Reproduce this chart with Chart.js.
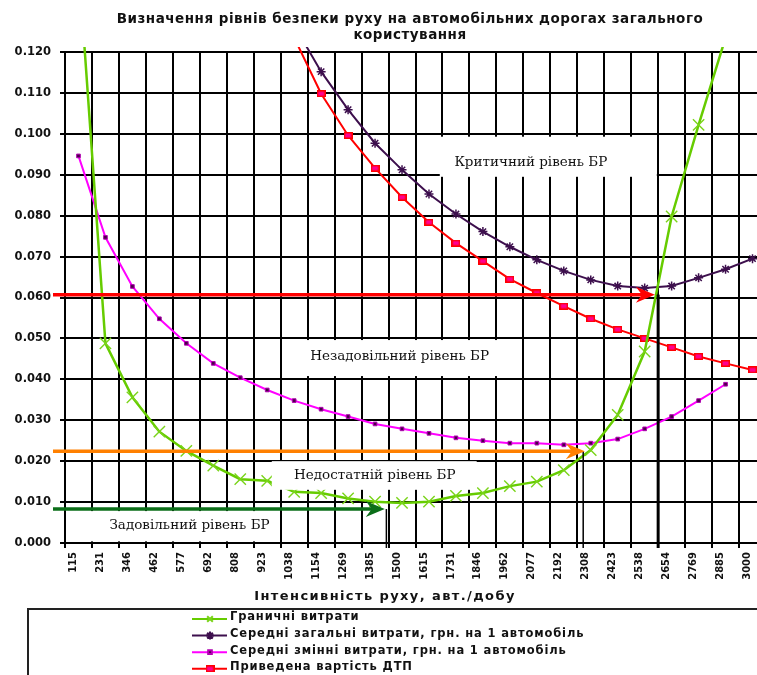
<!DOCTYPE html>
<html lang="uk">
<head>
<meta charset="utf-8">
<title>Визначення рівнів безпеки руху</title>
<script src="https://cdn.jsdelivr.net/npm/chart.js@4.4.1/dist/chart.umd.min.js"></script>
<style>
    html, body { margin: 0; padding: 0; background: #fff; overflow: hidden; }
    #wrap { position: relative; width: 766px; height: 675px; }
</style>
</head>
<body>
<div id="wrap"><canvas id="chart"></canvas></div>
<script>
// ---------------- Data ----------------
const categories = ['115', '231', '346', '462', '577', '692', '808', '923', '1038', '1154', '1269', '1385', '1500',
    '1615', '1731', '1846', '1962', '2077', '2192', '2308', '2423', '2538', '2654', '2769', '2885', '3000'];

// Граничні витрати
const marginalCosts = [0.142, 0.0488, 0.0356, 0.0272, 0.0225, 0.0189, 0.0156, 0.0152, 0.0125, 0.0122, 0.0109, 0.0101,
    0.0098, 0.0101, 0.0115, 0.0122, 0.0139, 0.0150, 0.0178, 0.0227, 0.0313, 0.0468, 0.0798, 0.1022, 0.1235, null];

// Середні загальні витрати
const avgTotalCosts = [null, null, null, null, null, null, null, null, 0.1265, 0.1152, 0.1059, 0.0977,
    0.0912, 0.0853, 0.0804, 0.0761, 0.0724, 0.0692, 0.0665, 0.0643, 0.0628, 0.0623, 0.0628, 0.0648, 0.0669, 0.0695];

// Середні змінні витрати
const avgVariableCosts = [0.0946, 0.0747, 0.0627, 0.0548, 0.0488, 0.0439, 0.0404, 0.0374, 0.0348, 0.0327, 0.0309, 0.0291,
    0.0279, 0.0268, 0.0257, 0.0250, 0.0244, 0.0244, 0.0240, 0.0244, 0.0254, 0.0279, 0.0309, 0.0348, 0.0388, null];

// Приведена вартість ДТП
const accidentCosts = [null, null, null, null, null, null, null, null, 0.1235, 0.1098, 0.0996, 0.0916,
    0.0845, 0.0784, 0.0733, 0.0689, 0.0645, 0.0611, 0.0579, 0.0548, 0.0522, 0.0500, 0.0478, 0.0456, 0.0439, 0.0423];

const seriesNames = [
    'Граничні витрати',
    'Середні загальні витрати, грн. на 1 автомобіль',
    'Середні змінні витрати, грн. на 1 автомобіль',
    'Приведена вартість ДТП'
];

const yMin = 0;
const yMax = 0.12;
const yStep = 0.01;

const chartTitle = ['Визначення рівнів безпеки руху на автомобільних дорогах загального', 'користування'];
const xTitle = 'Інтенсивність руху, авт./добу';

// ---------------- Level boxes / arrows (category index, value) ----------------
const levelBoxes = [
    { text: 'Критичний рівень БР', from: 13.4, to: 21.45, top: 0.0993, bottom: 0.0895, at: [16.78, 0.0929] },
    { text: 'Незадовільний рівень БР', from: 8.13, to: 15.66, top: 0.0496, bottom: 0.0408, at: [11.91, 0.0455] },
    { text: 'Недостатній рівень БР', from: 7.17, to: 14.77, top: 0.0200, bottom: 0.0130, at: [10.99, 0.0164] },
    { text: 'Задовільний рівень БР', from: -0.44, to: 7.39, top: 0.0078, bottom: 0.0004, at: [4.12, 0.0042] }
];

const levelArrows = [
    { value: 0.0607, tip: 21.38, drop: 21.5, color: '#ff0000', dropWidth: 3 },
    { value: 0.0224, tip: 18.78, drop: 18.72, color: '#ff8000', dropWidth: 1.5 },
    { value: 0.0083, tip: 11.36, drop: 11.42, color: '#0b6e18', dropWidth: 1.5 }
];

// ---------------- Drawing helpers ----------------
// small pink rectangle marker for the ДТП series
function makeRectMarker() {
    const c = document.createElement('canvas');
    c.width = 9;
    c.height = 7;
    const g = c.getContext('2d');
    g.fillStyle = '#ff0000';
    g.fillRect(0, 0, 9, 7);
    g.fillStyle = '#ff0090';
    g.fillRect(1.5, 1.5, 6, 4);
    return c;
}
const rectMarker = makeRectMarker();

function drawArrow(ctx, x1, x2, yy, color) {
    ctx.strokeStyle = color;
    ctx.fillStyle = color;
    ctx.lineWidth = 3.5;
    ctx.beginPath();
    ctx.moveTo(x1, yy);
    ctx.lineTo(x2 - 12, yy);
    ctx.stroke();
    ctx.beginPath();
    ctx.moveTo(x2, yy);
    ctx.lineTo(x2 - 19, yy - 8);
    ctx.lineTo(x2 - 13, yy);
    ctx.lineTo(x2 - 19, yy + 8);
    ctx.closePath();
    ctx.fill();
}

const overlayPlugin = {
    id: 'overlay',
    afterDatasetsDraw(chart) {
        const { ctx, chartArea } = chart;
        const x = chart.scales.x, y = chart.scales.y;
        ctx.save();

        // white label boxes
        ctx.font = '13.5px "DejaVu Serif"';
        ctx.textAlign = 'center';
        ctx.textBaseline = 'middle';
        levelBoxes.forEach(function(b) {
            const x1 = x.getPixelForValue(b.from), x2 = x.getPixelForValue(b.to);
            const y1 = y.getPixelForValue(b.top), y2 = y.getPixelForValue(b.bottom);
            ctx.fillStyle = '#fff';
            ctx.fillRect(x1, y1, x2 - x1, y2 - y1);
            ctx.fillStyle = '#111';
            ctx.fillText(b.text, x.getPixelForValue(b.at[0]), y.getPixelForValue(b.at[1]));
        });

        // arrows + drop lines
        levelArrows.forEach(function(a) {
            const yy = y.getPixelForValue(a.value);
            const xd = x.getPixelForValue(a.drop);
            ctx.strokeStyle = '#000';
            ctx.lineWidth = a.dropWidth;
            ctx.beginPath();
            ctx.moveTo(xd, yy);
            ctx.lineTo(xd, chartArea.bottom + 5);
            ctx.stroke();
            drawArrow(ctx, chartArea.left - 12, x.getPixelForValue(a.tip), yy, a.color);
        });
        ctx.restore();
    },
    afterDraw(chart) {
        const { ctx } = chart;
        ctx.save();
        ctx.fillStyle = '#111';
        ctx.textAlign = 'center';
        ctx.textBaseline = 'middle';

        // title
        ctx.font = 'bold 13.5px "DejaVu Sans"';
        ctx.letterSpacing = '0.5px';
        ctx.fillText(chartTitle[0], 410, 19);
        ctx.fillText(chartTitle[1], 410, 35);

        // x axis title
        ctx.font = 'bold 13px "DejaVu Sans"';
        ctx.letterSpacing = '1.4px';
        ctx.fillText(xTitle, 385, 597);

        // legend frame
        ctx.strokeStyle = '#222';
        ctx.lineWidth = 2;
        ctx.strokeRect(28, 609, 800, 120);

        // legend rows
        ctx.textAlign = 'left';
        ctx.font = 'bold 11.5px "DejaVu Sans"';
        ctx.letterSpacing = '0.85px';
        chart.data.datasets.forEach(function(ds, i) {
            const ly = 619 + i * 16.6;
            ctx.strokeStyle = ds.borderColor;
            ctx.lineWidth = 2;
            ctx.beginPath();
            ctx.moveTo(192, ly);
            ctx.lineTo(227, ly);
            ctx.stroke();
            ctx.strokeStyle = ds.pointBorderColor;
            ctx.fillStyle = ds.pointBackgroundColor;
            Chart.helpers.drawPoint(ctx, {
                pointStyle: ds.pointStyle,
                radius: ds.legendRadius,
                borderWidth: ds.pointBorderWidth,
                rotation: 0
            }, 210, ly);
            ctx.fillStyle = '#111';
            ctx.fillText(ds.label, 230, ly - 1.5);
        });
        ctx.restore();
    }
};

// ---------------- Chart ----------------
const ctx = document.getElementById('chart').getContext('2d');
new Chart(ctx, {
    type: 'line',
    data: {
        labels: categories,
        datasets: [{
            label: seriesNames[0],
            data: marginalCosts,
            borderColor: '#66cc00',
            borderWidth: 2.5,
            pointStyle: 'crossRot',
            pointRadius: 8,
            pointBorderWidth: 1.4,
            pointBorderColor: '#7ad41a',
            pointBackgroundColor: '#7ad41a',
            legendRadius: 4,
        }, {
            label: seriesNames[1],
            data: avgTotalCosts,
            borderColor: '#3d0f4d',
            borderWidth: 2,
            pointStyle: 'star',
            pointRadius: 4.5,
            pointBorderWidth: 1.5,
            pointBorderColor: '#3d0f4d',
            pointBackgroundColor: '#3d0f4d',
            legendRadius: 4,
        }, {
            label: seriesNames[2],
            data: avgVariableCosts,
            borderColor: '#ff00ff',
            borderWidth: 2,
            pointStyle: 'rect',
            pointRadius: 2.6,
            pointBorderWidth: 1,
            pointBorderColor: '#b000b0',
            pointBackgroundColor: '#4a0048',
            legendRadius: 2.6,
        }, {
            label: seriesNames[3],
            data: accidentCosts,
            borderColor: '#ff0000',
            borderWidth: 2,
            pointStyle: rectMarker,
            pointRadius: 4,
            pointBorderWidth: 1,
            pointBorderColor: '#ff0000',
            pointBackgroundColor: '#ff0090',
            legendRadius: 4,
        }]
    },
    options: {
        responsive: true,
        maintainAspectRatio: false,
        animation: false,
        devicePixelRatio: 1,
        clip: { left: 5, top: 5, right: 5, bottom: 5 },
        layout: { autoPadding: false, padding: { top: 52, left: 0, right: 0, bottom: 65 } },
        plugins: {
            legend: { display: false },
            title: { display: false },
            tooltip: { enabled: false }
        },
        scales: {
            x: {
                offset: true,
                grid: { offset: true, color: '#000', lineWidth: 2, tickLength: 5 },
                border: { color: '#000', width: 2 },
                ticks: {
                    autoSkip: false,
                    minRotation: 90,
                    maxRotation: 90,
                    padding: 4,
                    labelOffset: -5,
                    color: '#111',
                    font: { family: 'DejaVu Sans', weight: 'bold', size: 10 }
                },
                afterFit: function(scale) {
                    scale.height = 67;
                    scale.paddingLeft = 0;
                    scale.paddingRight = 0;
                }
            },
            y: {
                min: yMin,
                max: yMax,
                grid: { color: '#000', lineWidth: 2, tickLength: 5 },
                border: { color: '#000', width: 2 },
                ticks: {
                    stepSize: yStep,
                    padding: 9,
                    color: '#111',
                    font: { family: 'DejaVu Sans', weight: 'bold', size: 11.5 },
                    callback: function(v) { return v.toFixed(3); }
                },
                afterFit: function(scale) { scale.width = 65; }
            }
        }
    },
    plugins: [overlayPlugin]
});
</script>
</body>
</html>
